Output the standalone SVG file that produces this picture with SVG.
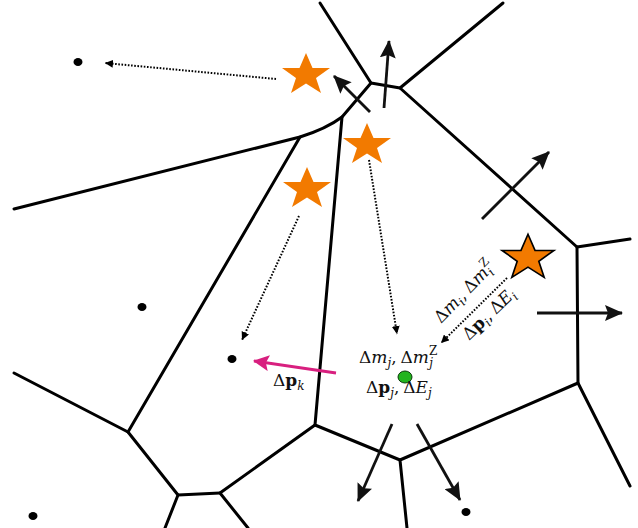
<svg xmlns="http://www.w3.org/2000/svg" width="638" height="528" viewBox="0 0 638 528">
  <style>
    .edge { fill: none; stroke: #000; stroke-width: 3; stroke-linejoin: round; stroke-linecap: round; }
    .flux { fill: none; stroke: #111; stroke-width: 2.8; marker-end: url(#headBold); }
    .dot-arrow { fill: none; stroke: #000; stroke-width: 2; stroke-dasharray: 1.6 1.6; marker-end: url(#headSmall); }
    .kick { fill: none; stroke: #d81f7f; stroke-width: 3; marker-end: url(#headPink); }
    .star { fill: #f27a00; }
    .star-o { fill: #f27a00; stroke: #000; stroke-width: 1.5; stroke-linejoin: miter; }
    .pt { fill: #000; }
    .lbl { font-family: "DejaVu Serif", "Liberation Serif", serif; font-size: 17px; fill: #111; }
    .it { font-style: italic; }
    .bf { font-weight: bold; }
    .sm { font-size: 12px; }
  </style>
  <defs>
    <marker id="headBold" viewBox="0 0 18 16" refX="17" refY="8" markerWidth="18" markerHeight="16" markerUnits="userSpaceOnUse" orient="auto">
      <path d="M0,0 L18,8 L0,16 L3,8 z" fill="#111"/>
    </marker>
    <marker id="headSmall" viewBox="0 0 8 8" refX="8" refY="4" markerWidth="8" markerHeight="8" markerUnits="userSpaceOnUse" orient="auto">
      <path d="M0,0 L8,4 L0,8 z" fill="#000"/>
    </marker>
    <marker id="headPink" viewBox="0 0 16 16" refX="15" refY="8" markerWidth="16" markerHeight="16" markerUnits="userSpaceOnUse" orient="auto">
      <path d="M0,0 L16,8 L0,16 L3,8 z" fill="#d81f7f"/>
    </marker>
    <path id="starShape" d="M0,-22 L6.5,-7 L24,-7 L10,3 L15,18 L0,8.5 L-15,18 L-10,3 L-24,-7 L-6.5,-7 z"/>
  </defs>

  <!-- cell boundaries -->
  <g id="edges">
    <path class="edge" d="M320,3 L371,83 L400,88 L503,3"/>
    <path class="edge" d="M400,88 L577,247 L630,239"/>
    <path class="edge" d="M577,247 L578,383 L630,486"/>
    <path class="edge" d="M578,383 L400,460 L407,528"/>
    <path class="edge" d="M400,460 L315,425 L342,117"/>
    <path class="edge" d="M315,425 L220,493 L248,528"/>
    <path class="edge" d="M220,493 L178,495 L165,528"/>
    <path class="edge" d="M178,495 L128,432 L14,373"/>
    <path class="edge" d="M128,432 L300,137"/>
    <path class="edge" d="M14,209 L300,137 C316,132 330,126 342,117 L371,83"/>
  </g>

  <!-- mesh-generating points -->
  <g id="points">
    <ellipse class="pt" cx="78" cy="62" rx="4.5" ry="4"/>
    <ellipse class="pt" cx="142" cy="307" rx="4.5" ry="4"/>
    <ellipse class="pt" cx="232" cy="359" rx="4.5" ry="4"/>
    <ellipse class="pt" cx="33" cy="516" rx="4.5" ry="4"/>
    <ellipse class="pt" cx="466" cy="512" rx="4.5" ry="4"/>
  </g>
  <g id="cell-j">
    <ellipse cx="405" cy="377" rx="7" ry="6" fill="#22b41e" stroke="#0a3a0a" stroke-width="1"/>
  </g>

  <!-- stars -->
  <g id="star-a"><use href="#starShape" class="star" transform="translate(306,75)"/></g>
  <g id="star-b"><use href="#starShape" class="star" transform="translate(367,145)"/></g>
  <g id="star-c"><use href="#starShape" class="star" transform="translate(307,189)"/></g>
  <g id="star-i"><use href="#starShape" class="star-o" transform="translate(528,258) scale(1.08)"/></g>

  <!-- connectors -->
  <g id="connectors">
    <path class="dot-arrow" d="M276,79 L105,63"/>
    <path class="dot-arrow" d="M299,216 L242,340"/>
    <path class="dot-arrow" d="M369,160 L397,334"/>
    <path class="dot-arrow" d="M507,278 L441,343"/>
    <path class="flux" d="M370,112 L334,76"/>
    <path class="flux" d="M384,108 L389,41"/>
    <path class="flux" d="M482,219 L549,152"/>
    <path class="flux" d="M537,313 L622,313"/>
    <path class="flux" d="M392,424 L358,501"/>
    <path class="flux" d="M417,424 L460,500"/>
    <path class="kick" d="M336,373 L254,361"/>
  </g>

  <!-- labels -->
  <g id="labels">
    <text class="lbl" x="359" y="363">Δ<tspan class="it">m</tspan><tspan class="sm it" dy="4">j</tspan><tspan dy="-4">,</tspan><tspan dx="4">Δ</tspan><tspan class="it">m</tspan><tspan class="sm" dy="-8">Z</tspan><tspan class="sm it" dx="-8" dy="12">j</tspan></text>
    <text class="lbl" x="366" y="393">Δ<tspan class="bf">p</tspan><tspan class="sm it" dy="4">j</tspan><tspan dy="-4">,</tspan><tspan dx="4">Δ</tspan><tspan class="it">E</tspan><tspan class="sm it" dy="4">j</tspan></text>
    <text class="lbl" x="273" y="386">Δ<tspan class="bf">p</tspan><tspan class="sm it" dy="4">k</tspan></text>
    <text class="lbl" transform="translate(441,324) rotate(-46)">Δ<tspan class="it">m</tspan><tspan class="sm it" dy="4">i</tspan><tspan dy="-4">,</tspan><tspan dx="4">Δ</tspan><tspan class="it">m</tspan><tspan class="sm" dy="-8">Z</tspan><tspan class="sm it" dx="-8" dy="12">i</tspan></text>
    <text class="lbl" transform="translate(469,341) rotate(-44)">Δ<tspan class="bf">p</tspan><tspan class="sm it" dy="4">i</tspan><tspan dy="-4">,</tspan><tspan dx="4">Δ</tspan><tspan class="it">E</tspan><tspan class="sm it" dy="4">i</tspan></text>
  </g>
</svg>
